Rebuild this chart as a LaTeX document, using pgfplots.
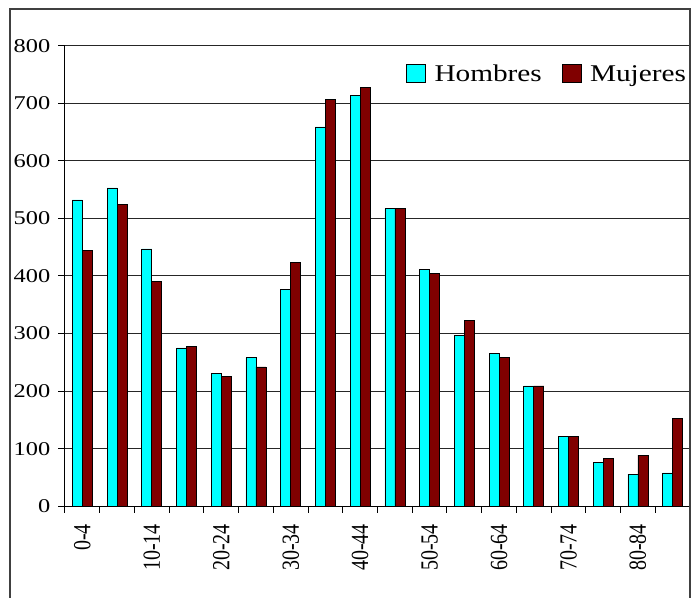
\documentclass[border=0pt]{standalone}
\usepackage{fontspec}
\usepackage{pgfplots}
\pgfplotsset{compat=1.18}
\setmainfont{Liberation Serif}
\newfontfamily\yfont[FakeStretch=1.25]{Liberation Serif}
\newfontfamily\xfont[FakeStretch=0.813]{Liberation Serif}
\newfontfamily\legfont[FakeStretch=1.22]{Liberation Serif}
\definecolor{hcol}{RGB}{0,255,255}
\definecolor{mcol}{RGB}{128,0,0}
\begin{document}
\begin{tikzpicture}
\begin{axis}[
  at={(65pt,90.7pt)}, anchor=south west,
  scale only axis, width=625pt, height=460.6pt,
  xmin=-0.5, xmax=17.5, ymin=0, ymax=800,
  axis x line*=bottom, axis y line*=left,
  axis line style={black, line width=1pt},
  ybar=0pt, bar width=10pt,
  ytick={0,100,...,800},
  ymajorgrids, grid style={black!85, line width=1pt},
  tick align=outside,
  major tick length=6.5pt,
  tick style={black, line width=1pt},
  xtick={-0.5,0.5,...,17.5},
  xticklabels={0-4,,10-14,,20-24,,30-34,,40-44,,50-54,,60-64,,70-74,,80-84,,},
  /pgf/number format/assume math mode=true,
  yticklabel style={font=\yfont\fontsize{19.5}{19.5}\selectfont, inner sep=0pt, xshift=-8pt},
  xticklabel style={font=\xfont\fontsize{24.6}{24.6}\selectfont, xshift=17.36pt, yshift=-11pt, rotate=90, anchor=east, inner sep=0pt},
  legend columns=2,
  legend style={at={(axis description cs:0.9936,0.9603)}, anchor=north east, draw=none, fill=none, inner sep=0pt, outer sep=0pt, column sep=8.5pt, font=\legfont\fontsize{24}{24}\selectfont, cells={anchor=base west}, nodes={inner sep=0pt}, /tikz/every even column/.append style={column sep=20pt}},
  legend image code/.code={\draw[#1] (0pt,-1pt) rectangle (19pt,17pt);},
]
\addplot[fill=hcol, draw=black, line width=0.7pt] coordinates {
(0,532) (1,553) (2,447) (3,275) (4,231) (5,258) (6,376) (7,659) (8,714)
(9,517) (10,412) (11,297) (12,266) (13,209) (14,122) (15,76) (16,56) (17,58)};
\addplot[fill=mcol, draw=black, line width=0.7pt] coordinates {
(0,445) (1,525) (2,390) (3,278) (4,225) (5,242) (6,424) (7,706) (8,727)
(9,517) (10,404) (11,323) (12,259) (13,209) (14,122) (15,83) (16,89) (17,153)};
\legend{Hombres, Mujeres}
\end{axis}
\draw[black!75, line width=1.2pt] (10pt,-5pt) -- (10pt,588pt) -- (690pt,588pt) -- (690pt,-5pt);
\pgfresetboundingbox
\useasboundingbox (0,0) rectangle (696pt,597pt);
\end{tikzpicture}
\end{document}
